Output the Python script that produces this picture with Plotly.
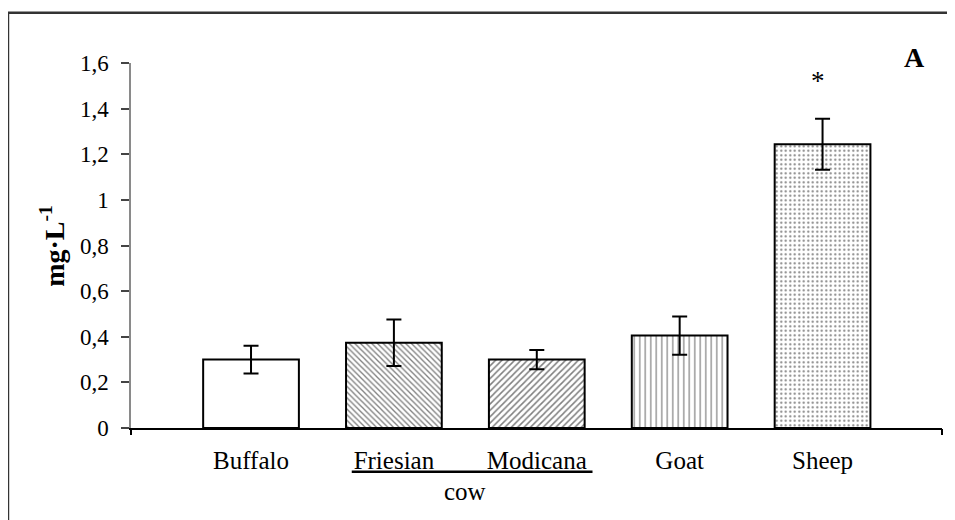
import plotly.graph_objects as go

categories = ["Buffalo", "Friesian", "Modicana", "Goat", "Sheep"]
values = [0.30, 0.374, 0.300, 0.405, 1.244]
errors = [0.061, 0.102, 0.042, 0.084, 0.112]
patterns = ["", "\\", "/", "|", "."]
y_tickvals = [0, 0.2, 0.4, 0.6, 0.8, 1.0, 1.2, 1.4, 1.6]
y_ticktext = ["0", "0,2", "0,4", "0,6", "0,8", "1", "1,2", "1,4", "1,6"]
group_label = "cow"
group_members = ["Friesian", "Modicana"]
star_category = "Sheep"
panel_label = "A"

FONT = "Liberation Serif, Times New Roman, serif"
xs = list(range(len(categories)))
xrange_ = [-0.84, 4.836]

fig = go.Figure()
fig.add_trace(go.Bar(
    x=xs, y=values, width=0.67,
    marker=dict(
        color="white",
        line=dict(color="black", width=2),
        pattern=dict(shape=patterns, fgcolor="black", bgcolor="white",
                     size=[6, 4, 4.5, 5.5, 4.5], solidity=[0.2, 0.33, 0.33, 0.22, 0.18]),
    ),
    error_y=dict(type="data", array=errors, visible=True, color="black",
                 thickness=2, width=7.5),
    showlegend=False,
))
# invisible trace to activate the overlay axis with end ticks
fig.add_trace(go.Scatter(x=[None], y=[None], xaxis="x2", showlegend=False, hoverinfo="skip"))

fig.update_layout(
    width=955, height=520,
    margin=dict(l=123, r=21, t=55, b=100),
    paper_bgcolor="white", plot_bgcolor="white",
    font=dict(family=FONT, size=22, color="black"),
    xaxis=dict(range=xrange_, tickvals=xs, ticktext=categories,
               showline=True, linecolor="black", linewidth=1.5,
               showgrid=False, zeroline=False, ticks="", ticklabelstandoff=9,
               tickfont=dict(family=FONT, size=25, color="black")),
    xaxis2=dict(range=xrange_, overlaying="x", anchor="y", side="bottom",
                tickvals=[xrange_[0], xrange_[1]], ticks="outside", ticklen=6,
                tickcolor="black", tickwidth=1.5, showticklabels=False,
                showgrid=False, zeroline=False, showline=False),
    yaxis=dict(range=[0, 1.6], tickvals=y_tickvals, ticktext=y_ticktext,
               showline=True, linecolor="#8a8a8a", linewidth=1.5,
               ticks="outside", ticklen=8, tickcolor="#444", tickwidth=1.5,
               ticklabelstandoff=8,
               showgrid=False, zeroline=False,
               tickfont=dict(family=FONT, size=23, color="black")),
)

# y-axis title placed as rotated annotation
fig.add_annotation(x=-0.097, y=0.5, xref="paper", yref="paper",
                   text="<b>mg·L<sup>-1</sup></b>", textangle=-90,
                   xanchor="center", yanchor="middle", showarrow=False,
                   font=dict(family=FONT, size=28, color="black"))

# group label "cow" under Friesian/Modicana with underline
i0 = categories.index(group_members[0])
i1 = categories.index(group_members[1])
fig.add_annotation(x=(i0 + i1) / 2, y=-0.1745, xref="x", yref="paper", text=group_label,
                   xanchor="center", yanchor="middle",
                   showarrow=False, font=dict(family=FONT, size=25, color="black"))
fig.add_shape(type="line", xref="x", yref="paper", x0=i0 - 0.295, x1=i1 + 0.39,
              y0=-0.1197, y1=-0.1197, line=dict(color="black", width=2.5))

# significance star
si = categories.index(star_category)
fig.add_annotation(x=si - 0.03, y=values[si] + errors[si] + 0.165, xref="x", yref="y", text="*",
                   xanchor="center", yanchor="middle",
                   showarrow=False, font=dict(family=FONT, size=27, color="black"))
# panel label
fig.add_annotation(x=0.9655, y=1.015, xref="paper", yref="paper", text="<b>" + panel_label + "</b>",
                   xanchor="center", yanchor="middle",
                   showarrow=False, font=dict(family=FONT, size=28, color="black"))

# outer frame (left and top edges visible)
fig.add_shape(type="rect", xref="paper", yref="paper", x0=-0.1517, x1=1.2,
              y0=-0.4, y1=1.138, line=dict(color="#333", width=2.5), layer="below")

fig.write_html("out.html")
